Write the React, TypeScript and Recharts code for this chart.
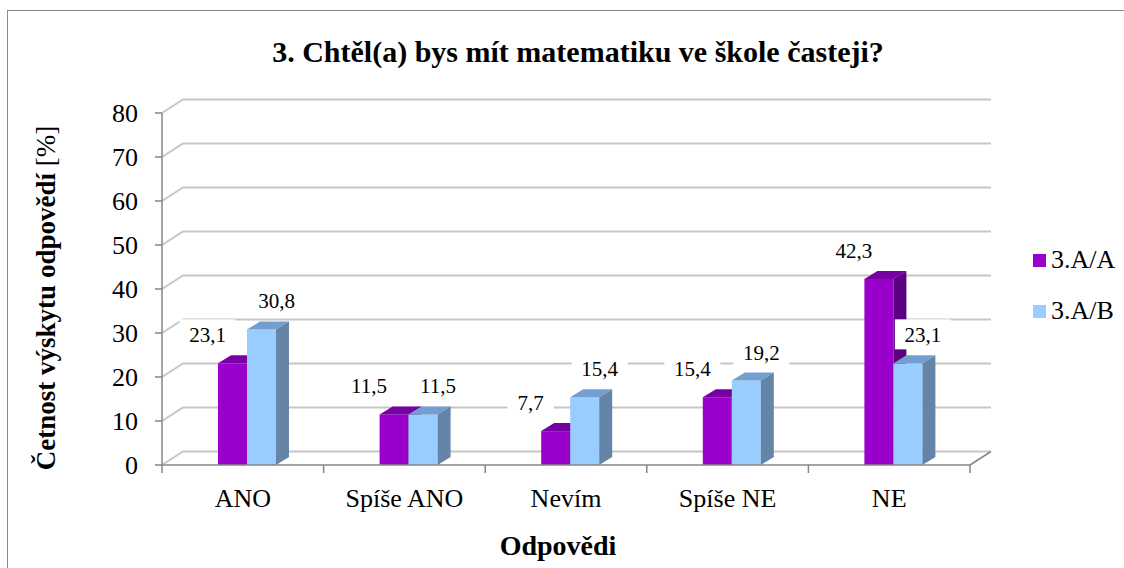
import React from 'react';
import { BarChart, Bar, XAxis, YAxis, CartesianGrid, LabelList, Legend } from 'recharts';

const categories = ['ANO', 'Spíše ANO', 'Nevím', 'Spíše NE', 'NE'];
const classA = [23.1, 11.5, 7.7, 15.4, 42.3];
const classB = [30.8, 11.5, 15.4, 19.2, 23.1];
const yTicks = [0, 10, 20, 30, 40, 50, 60, 70, 80];
const seriesNames = ['3.A/A', '3.A/B'];
const chartTitle = '3. Chtěl(a) bys mít matematiku ve škole časteji?';
const xTitle = 'Odpovědi';
const yTitleBold = 'Četnost výskytu odpovědí';
const yTitleUnit = ' [%]';

const data = categories.map((name, i) => ({ name, a: classA[i], b: classB[i] }));

const FONT = "'Liberation Serif', Tinos, 'Times New Roman', Times, 'DejaVu Serif', serif";
const W = 1124;
const H = 568;
const WALL_DX = 21;
const WALL_DY = -13.5;
const BAR_DX = 13;
const BAR_DY = -8;
const SHIFT = 4;
const AXIS = '#868686';
const GRID = '#c6c6c6';

const COLORS = {
  a: { front: '#9900CC', top: '#7700a3', side: '#5c0082' },
  b: { front: '#99CCFF', top: '#729fcf', side: '#6484a8' },
};

const make3D = (c: { front: string; top: string; side: string }) => (props: any) => {
  const { x, y, width, height } = props;
  if (x == null || width == null || height == null) return null;
  const X = Number(x) + SHIFT;
  const Y = Number(y);
  const w = Number(width);
  const h = Number(height);
  return (
    <g>
      <rect x={X} y={Y} width={w} height={h} fill={c.front} />
      <polygon
        points={`${X},${Y} ${X + w},${Y} ${X + w + BAR_DX},${Y + BAR_DY} ${X + BAR_DX},${Y + BAR_DY}`}
        fill={c.top}
      />
      <polygon
        points={`${X + w},${Y} ${X + w + BAR_DX},${Y + BAR_DY} ${X + w + BAR_DX},${Y + h + BAR_DY} ${X + w},${Y + h}`}
        fill={c.side}
      />
    </g>
  );
};

const fmt = (v: number) => v.toFixed(1).replace('.', ',');

const makeLabel = (dx: number, dy: number) => (props: any) => {
  const { x, y, width, value, index } = props;
  if (x == null || value == null) return null;
  const cx = Number(x) + SHIFT + Number(width) / 2 + dx;
  const cy = Number(y) + dy;
  const txt = fmt(Number(value));
  const tw = txt.length * 9.5;
  return (
    <g key={`lbl-${index}`}>
      <rect x={cx - tw / 2 - 9} y={cy - 16} width={tw + 18} height={30} fill="#ffffff" />
      <text
        x={cx}
        y={cy}
        textAnchor="middle"
        dominantBaseline="central"
        style={{ fontFamily: FONT }}
        fontSize={21}
        fill="#000"
      >
        {txt}
      </text>
    </g>
  );
};

const gridLine = (p: any) => {
  const { x1, y1, x2, y2, key } = p;
  return (
    <path
      key={key}
      d={`M${x1},${y1} L${x1 + WALL_DX},${y1 + WALL_DY} L${x2 + WALL_DX},${y2 + WALL_DY}`}
      stroke={GRID}
      strokeWidth={2}
      fill="none"
    />
  );
};

const XTick = (props: any) => {
  const { x, y, payload, index, visibleTicksCount } = props;
  const half = payload && payload.offset ? payload.offset : 80.8;
  const last = index === (visibleTicksCount ?? categories.length) - 1;
  return (
    <g>
      <line x1={x - half} y1={y} x2={x - half} y2={y + 8} stroke={AXIS} strokeWidth={1.5} />
      {last && (
        <>
          <line x1={x + half} y1={y} x2={x + half} y2={y + 8} stroke={AXIS} strokeWidth={1.5} />
          <line
            x1={x + half}
            y1={y}
            x2={x + half + WALL_DX}
            y2={y + WALL_DY}
            stroke={AXIS}
            strokeWidth={1.5}
          />
        </>
      )}
      <text x={x} y={y + 42} textAnchor="middle" style={{ fontFamily: FONT }} fontSize={26} fill="#000">
        {payload.value}
      </text>
    </g>
  );
};

const YTick = (props: any) => {
  const { x, y, payload } = props;
  return (
    <text x={x} y={y} dy="0.35em" textAnchor="end" style={{ fontFamily: FONT }} fontSize={26} fill="#000">
      {payload.value}
    </text>
  );
};

const YTitle = (props: any) => {
  const vb = props.viewBox || { x: 0, y: 113, width: 162, height: 352 };
  const cx = vb.x + 55;
  const cy = vb.y + vb.height / 2 + 9;
  return (
    <text
      transform={`translate(${cx},${cy}) rotate(-90)`}
      textAnchor="middle"
      style={{ fontFamily: FONT }}
      fontSize={27}
      fill="#000"
    >
      <tspan fontWeight="bold">{yTitleBold}</tspan>
      <tspan>{yTitleUnit}</tspan>
    </text>
  );
};

const XTitle = (props: any) => {
  const vb = props.viewBox || { x: 162, y: 465, width: 808, height: 103 };
  return (
    <text
      x={vb.x + vb.width / 2 - 8}
      y={vb.y + 90}
      textAnchor="middle"
      style={{ fontFamily: FONT }}
      fontSize={28}
      fontWeight="bold"
      fill="#000"
    >
      {xTitle}
    </text>
  );
};

const LegendContent = () => (
  <div style={{ fontFamily: FONT, fontSize: 26, color: '#000' }}>
    {seriesNames.map((n, i) => (
      <div key={n} style={{ display: 'flex', alignItems: 'center', height: 40, marginBottom: 11 }}>
        <div
          style={{
            width: 13,
            height: 13,
            background: i === 0 ? COLORS.a.front : COLORS.b.front,
            marginRight: 5,
          }}
        />
        <span style={{ lineHeight: '40px' }}>{n}</span>
      </div>
    ))}
  </div>
);

export default function App() {
  return (
    <div
      style={{
        position: 'absolute',
        left: 0,
        top: 0,
        width: W,
        height: H,
        overflow: 'hidden',
        background: '#fff',
        fontFamily: FONT,
      }}
    >
      <div
        style={{
          position: 'absolute',
          left: 7,
          top: 10,
          width: 1300,
          height: 700,
          border: '1.5px solid #8a8a8a',
        }}
      />
      <div
        style={{
          position: 'absolute',
          left: 0,
          top: 37,
          width: 1156,
          textAlign: 'center',
          fontFamily: FONT,
          fontSize: 30,
          fontWeight: 'bold',
          lineHeight: '30px',
          color: '#000',
        }}
      >
        {chartTitle}
      </div>
      <div style={{ position: 'absolute', left: 0, top: 0 }}>
        <BarChart
          width={W}
          height={H}
          data={data}
          margin={{ top: 113, right: 154, bottom: 0, left: 0 }}
          barGap={0}
          barSize={29}
        >
          <CartesianGrid vertical={false} horizontal={gridLine} />
          <XAxis
            dataKey="name"
            height={103}
            axisLine={{ stroke: AXIS, strokeWidth: 1.5 }}
            tickLine={false}
            tickSize={0}
            tickMargin={0}
            tick={<XTick />}
            interval={0}
            label={{ content: <XTitle /> }}
          />
          <YAxis
            width={162}
            domain={[0, 80]}
            ticks={yTicks}
            interval={0}
            axisLine={{ stroke: AXIS, strokeWidth: 1.5 }}
            tickLine={{ stroke: AXIS, strokeWidth: 1.5 }}
            tickSize={7}
            tickMargin={17}
            tick={<YTick />}
            label={{ content: <YTitle /> }}
          />
          <Legend
            layout="vertical"
            align="center"
            verticalAlign="middle"
            wrapperStyle={{ left: 1033, top: 240, width: 91 }}
            content={<LegendContent />}
          />
          <Bar dataKey="a" name={seriesNames[0]} fill={COLORS.a.front} shape={make3D(COLORS.a)} isAnimationActive={false}>
            <LabelList dataKey="a" content={makeLabel(-25, -28)} />
          </Bar>
          <Bar dataKey="b" name={seriesNames[1]} fill={COLORS.b.front} shape={make3D(COLORS.b)} isAnimationActive={false}>
            <LabelList dataKey="b" content={makeLabel(15, -28)} />
          </Bar>
        </BarChart>
      </div>
    </div>
  );
}
